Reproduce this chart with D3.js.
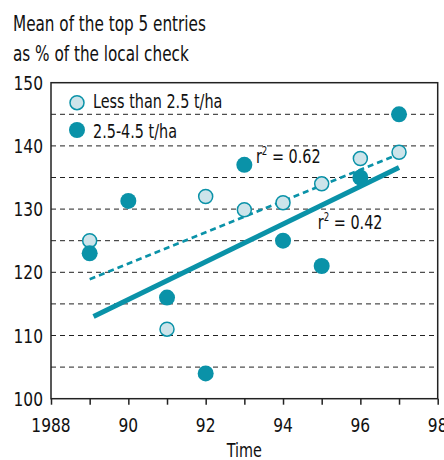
<!DOCTYPE html>
<meta charset="utf-8">
<style>
  body { margin: 0; background: #fff; }
  text { font-family: "DejaVu Sans", sans-serif; font-stretch: condensed; fill: #111; }
</style>
<body>
<div id="graph"></div>
<script src="https://cdn.jsdelivr.net/npm/d3@7"></script>
<script>
  // data
  var yearsLow = [1989, 1991, 1992, 1993, 1994, 1995, 1996, 1997];
  var valuesLow = [125, 111, 132, 129.9, 131, 134, 138, 139];
  var yearsMid = [1989, 1990, 1991, 1992, 1993, 1994, 1995, 1996, 1997];
  var valuesMid = [123, 131.3, 116, 104, 137, 125, 121, 135, 145];
  // trend lines (end points)
  var trendLowX = [1989, 1997], trendLowY = [118.9, 138.7];
  var trendMidX = [1989.1, 1997], trendMidY = [113, 136.6];
  var seriesNames = ["Less than 2.5 t/ha", "2.5-4.5 t/ha"];
  var r2Labels = ["0.62", "0.42"];
  var r2X = [1993.3, 1994.9], r2Y = [137.3, 126.9];
  var xTicks = [1988, 1989, 1990, 1991, 1992, 1993, 1994, 1995, 1996, 1997, 1998];
  var xLabels = ["1988", "90", "92", "94", "96", "98"];
  var yTicks = [100, 110, 120, 130, 140, 150];
  var gridVals = [105, 110, 115, 120, 125, 130, 135, 140, 145];

  var teal = "#0a92a8", pale = "#cde4ea";
  var W = 444, H = 460;
  var pLeft = 51, pRight = 437.7, pTop = 82.7, pBottom = 398.7;

  var x = d3.scaleLinear().domain([1988, 1998]).range([pLeft, pRight]);
  var y = d3.scaleLinear().domain([100, 150]).range([pBottom, pTop]);

  var svg = d3.select("#graph").append("svg")
    .attr("width", W).attr("height", H);

  // narrow text: squeeze horizontally round its anchor point
  function label(parent, px, py, str, size, k, anchor) {
    return parent.append("text")
      .attr("transform", "translate(" + px + "," + py + ") scale(" + k + ",1)")
      .attr("text-anchor", anchor || "start")
      .style("font-size", size + "px")
      .text(str);
  }

  // title
  label(svg, 13, 31, "Mean of the top 5 entries", 22, 0.77);
  label(svg, 13, 61, "as % of the local check", 22, 0.77);

  // dashed grid
  svg.append("g").selectAll("line").data(gridVals).enter().append("line")
    .attr("x1", pLeft).attr("x2", pRight)
    .attr("y1", function(d) { return y(d); }).attr("y2", function(d) { return y(d); })
    .attr("stroke", "#222").attr("stroke-width", 1).attr("stroke-dasharray", "5,4");

  // frame
  svg.append("rect").attr("x", pLeft).attr("y", pTop)
    .attr("width", pRight - pLeft).attr("height", pBottom - pTop)
    .attr("fill", "none").attr("stroke", "#222").attr("stroke-width", 1.5);

  // x axis
  var xAxis = d3.axisBottom(x).tickValues(xTicks).tickSize(6).tickFormat("");
  var gx = svg.append("g").attr("transform", "translate(0," + pBottom + ")").call(xAxis);
  gx.select(".domain").remove();
  gx.selectAll("line").attr("stroke", "#222").attr("stroke-width", 1.5);

  xLabels.forEach(function(d, i) {
    label(svg, x(1988 + i * 2), 432, d, 20, 0.86, "middle");
  });
  label(svg, x(1993), 457, "Time", 20, 0.8, "middle");

  // y labels
  yTicks.forEach(function(d) {
    label(svg, pLeft - 8, y(d) + 7, d, 20, 0.86, "end");
  });

  // trend lines
  var line = d3.line().x(function(d) { return x(d[0]); }).y(function(d) { return y(d[1]); });
  svg.append("path").datum(d3.zip(trendLowX, trendLowY)).attr("d", line)
    .attr("fill", "none").attr("stroke", teal).attr("stroke-width", 2.5)
    .attr("stroke-dasharray", "6,4");
  svg.append("path").datum(d3.zip(trendMidX, trendMidY)).attr("d", line)
    .attr("fill", "none").attr("stroke", teal).attr("stroke-width", 5);

  // points
  svg.append("g").selectAll("circle").data(d3.zip(yearsLow, valuesLow)).enter().append("circle")
    .attr("cx", function(d) { return x(d[0]); }).attr("cy", function(d) { return y(d[1]); })
    .attr("r", 7).attr("fill", pale).attr("stroke", teal).attr("stroke-width", 1.5);
  svg.append("g").selectAll("circle").data(d3.zip(yearsMid, valuesMid)).enter().append("circle")
    .attr("cx", function(d) { return x(d[0]); }).attr("cy", function(d) { return y(d[1]); })
    .attr("r", 8).attr("fill", teal);

  // r2 labels
  r2Labels.forEach(function(v, i) {
    var t = label(svg, x(r2X[i]), y(r2Y[i]), "", 20, 0.8);
    t.append("tspan").text("r");
    t.append("tspan").attr("dy", -8).style("font-size", "12px").text("2");
    t.append("tspan").attr("dy", 8).text(" = " + v);
  });

  // legend
  var leg = svg.append("g");
  leg.append("circle").attr("cx", 77).attr("cy", 102.7).attr("r", 7)
    .attr("fill", pale).attr("stroke", teal).attr("stroke-width", 1.5);
  leg.append("circle").attr("cx", 77).attr("cy", 130).attr("r", 8).attr("fill", teal);
  label(leg, 93, 108, seriesNames[0], 20, 0.8);
  label(leg, 93, 138, seriesNames[1], 20, 0.8);
</script>
</body>
